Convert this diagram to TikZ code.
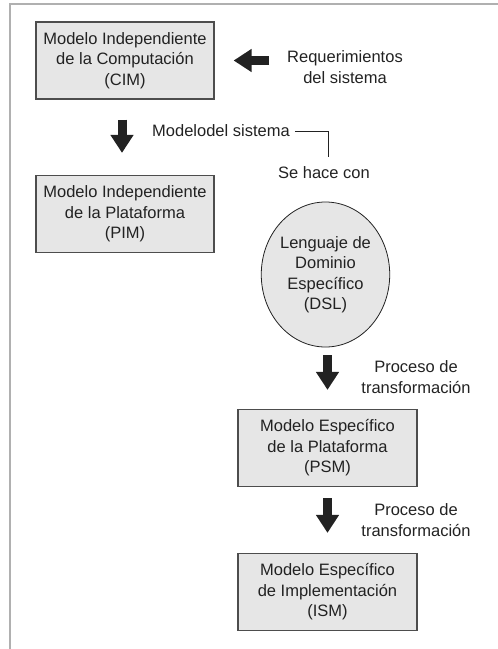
\documentclass[tikz,border=0pt]{standalone}
\usepackage{fontspec}
\setmainfont{Liberation Sans}
\usetikzlibrary{arrows.meta,shapes.geometric,positioning}

\definecolor{cajagris}{HTML}{E6E6E6}
\definecolor{bordegris}{HTML}{4D4D4D}
\definecolor{marcogris}{HTML}{B0B0B0}
\definecolor{textogris}{HTML}{222222}

\tikzset{
  modelo/.style={draw=bordegris, fill=cajagris, line width=1.2pt,
    minimum width=178pt, minimum height=77pt, inner sep=0pt,
    align=center, text=textogris},
  lenguaje/.style={ellipse, draw=textogris, fill=cajagris, line width=0.8pt,
    minimum width=111pt, minimum height=145pt, inner sep=0pt,
    align=center, text=textogris},
  etiqueta/.style={align=center, text=textogris, inner sep=2pt},
  flecha/.style={draw=textogris, line width=9pt,
    -{Triangle[length=18pt,width=22pt]}},
  enlace/.style={draw=textogris, line width=0.8pt}
}

\begin{document}
\begin{tikzpicture}[x=1pt, y=-1pt,
  every node/.append style={font=\fontsize{16.5}{20.5}\selectfont}]

    \useasboundingbox (0,0) rectangle (498,649);

    % Marco
    \draw[marcogris, line width=1.5pt] (498,4) -- (10,4) -- (10,649);

    % Modelos
    \node[modelo] (cim) at (125,60.5)
      {Modelo Independiente\\de la Computación\\(CIM)};
    \node[modelo] (pim) at (125,214)
      {Modelo Independiente\\de la Plataforma\\(PIM)};
    \node[lenguaje] (dsl) at (325.5,274.5)
      {Lenguaje de\\Dominio\\Específico\\(DSL)};
    \node[modelo, minimum width=179pt] (psm) at (327.5,448)
      {Modelo Específico\\de la Plataforma\\(PSM)};
    \node[modelo, minimum width=179pt] (ism) at (327.5,592)
      {Modelo Específico\\de Implementación\\(ISM)};

    % Etiquetas
    \node[etiqueta] (req) at (345,67) {Requerimientos\\del sistema};
    \node[etiqueta, anchor=west] (mod) at (150,131) {Modelodel sistema};
    \node[etiqueta] (sehace) at (324,173) {Se hace con};
    \node[etiqueta] (proc1) at (416,377) {Proceso de\\transformación};
    \node[etiqueta] (proc2) at (416,520) {Proceso de\\transformación};

    % Flechas
    \draw[flecha, shorten <=16pt, shorten >=19pt]
      (req.west |- cim.east) -- (cim.east);
    \draw[flecha, shorten <=20pt, shorten >=22pt]
      ([xshift=-3pt]cim.south) -- ([xshift=-3pt]pim.north);
    \draw[flecha, shorten <=8pt, shorten >=19pt]
      (psm.north |- dsl.south) -- (psm.north);
    \draw[flecha, shorten <=11pt, shorten >=20pt]
      (psm.south) -- (ism.north);

    % Linea de enlace
    \draw[enlace, shorten <=3pt]
      (mod.east) -| ([xshift=4pt, yshift=8pt]sehace.north);

  \end{tikzpicture}
\end{document}
